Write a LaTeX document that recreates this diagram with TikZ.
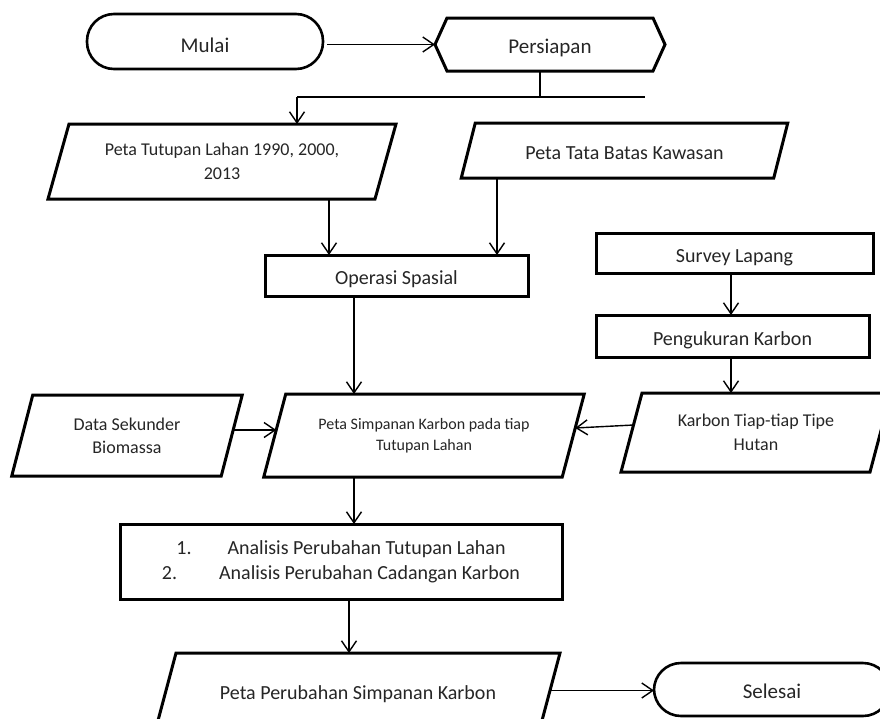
\documentclass[tikz,border=0pt]{standalone}
\usepackage{fontspec}
\setmainfont{Carlito}
\usetikzlibrary{arrows.meta,calc}
\newcommand\paraframe[2]{\draw[frame] ([xshift=#2pt]#1.north west) -- ([xshift=#2pt]#1.north east) -- ([xshift=-#2pt]#1.south east) -- ([xshift=-#2pt]#1.south west) -- cycle;}
\begin{document}
\begin{tikzpicture}[x=1pt,y=-1pt,
  box/.style={draw=none, rectangle, outer sep=0pt, inner sep=0pt, text=black!85, font=\fontsize{20}{25}\selectfont, align=center},
  one/.style={text height=18pt, text depth=0pt},
  frame/.style={line width=3pt, line join=miter},
  arr/.style={line width=1.4pt, -{Straight Barb[length=11pt,width=15pt,line width=1.4pt]}},
  ln/.style={line width=1.4pt},
  rbox/.style={box, draw, line width=3pt},
  term/.style={box, one, draw, line width=2.6pt, rounded corners=27pt, font=\fontsize{21}{25}\selectfont}
]
\useasboundingbox (0,0) rectangle (880,718);
\clip (0,0) rectangle (880,718);
\fill[white] (0,0) rectangle (880,718);

% Mulai and Persiapan
\node[term, text height=22pt, minimum width=236pt, minimum height=55pt] (mulai) at (205,41.5) {Mulai};
\node[box, one, minimum width=206pt, minimum height=53pt, font=\fontsize{21}{25}\selectfont] (pers) at (550,44.5) {Persiapan};
\draw[frame] (pers.north west) -- (pers.north east) -- ++(12,26.5) -- (pers.south east) -- (pers.south west) -- ++(-12,-26.5) -- cycle;
\coordinate (persW) at ($(pers.west)+(-12,0)$);
\draw[arr] ([xshift=4pt]mulai.east |- persW) -- (persW);

% branch
\coordinate (split) at (540,97);
\coordinate (brL) at (297,97);
\coordinate (brR) at (645,97);
\draw[ln] (pers.south -| split) -- (split);
\draw[ln] (brL) -- (brR);

% Peta Tutupan Lahan
\node[box, minimum width=327pt, minimum height=75pt, font=\fontsize{18}{24}\selectfont] (tut) at (222,161.5) {Peta Tutupan Lahan 1990, 2000,\\2013};
\paraframe{tut}{10.5}
\draw[arr] (brL) -- (brL |- tut.north);

% Peta Tata Batas
\node[box, one, minimum width=312.5pt, minimum height=55pt] (tata) at (624.5,150.5) {Peta Tata Batas Kawasan};
\paraframe{tata}{7}

% Operasi Spasial
\node[rbox, one, minimum width=263pt, minimum height=41pt] (ops) at (396.5,275.5) {Operasi Spasial};
\coordinate (xa) at (329,0);
\coordinate (xb) at (497,0);
\draw[arr] (tut.south -| xa) -- (ops.north -| xa);
\draw[arr] (tata.south -| xb) -- (ops.north -| xb);

% Survey / Pengukuran
\node[rbox, one, minimum width=277pt, minimum height=40pt] (survey) at (734.5,253) {Survey Lapang};
\node[rbox, one, minimum width=273pt, minimum height=42pt] (ukur) at (732.5,336) {Pengukuran Karbon};
\coordinate (xc) at (731,0);
\draw[arr] (survey.south -| xc) -- (ukur.north -| xc);

% Karbon Tiap-tiap
\node[box, minimum width=249pt, minimum height=79pt, font=\fontsize{18}{24}\selectfont] (karbon) at (756,432.5) {Karbon Tiap-tiap Tipe\\Hutan};
\paraframe{karbon}{10.5}
\draw[arr] (ukur.south -| xc) -- (karbon.north -| xc);

% Simpanan
\node[box, minimum width=298.5pt, minimum height=83pt, font=\fontsize{16}{21}\selectfont] (simp) at (424,435.5) {Peta Simpanan Karbon pada tiap\\Tutupan Lahan};
\paraframe{simp}{11}

% Data Sekunder
\node[box, minimum width=209.5pt, minimum height=81pt, font=\fontsize{18}{23}\selectfont] (data) at (127,435.5) {Data Sekunder\\Biomassa};
\paraframe{data}{10.5}

\coordinate (xd) at (354,0);
\draw[arr] (ops.south -| xd) -- (simp.north -| xd);
\draw[arr] ([yshift=5.5pt,xshift=1.5pt]data.east) -- ([yshift=5.5pt,xshift=1.5pt]simp.west);
\draw[arr] ([yshift=7.5pt,xshift=2pt]karbon.west) -- ([yshift=7.5pt,xshift=2pt]simp.east);

% Analisis
\node[rbox, minimum width=442pt, minimum height=75pt] (anal) at (341,561.5) {1.\hspace{36pt}Analisis Perubahan Tutupan Lahan\\2.\hspace{42pt}Analisis Perubahan Cadangan Karbon};
\draw[arr] (simp.south -| xd) -- (anal.north -| xd);

% Peta Perubahan
\node[box, one, minimum width=384pt, minimum height=75pt] (ubah) at (358,690.5) {Peta Perubahan Simpanan Karbon};
\paraframe{ubah}{10}
\coordinate (xe) at (349,0);
\draw[arr] (anal.south -| xe) -- (ubah.north -| xe);

% Selesai
\node[term, minimum width=236pt, minimum height=53pt] (selesai) at (772,689.5) {Selesai};
\draw[arr] (ubah.east) -- (ubah.east -| selesai.west);
\end{tikzpicture}
\end{document}
